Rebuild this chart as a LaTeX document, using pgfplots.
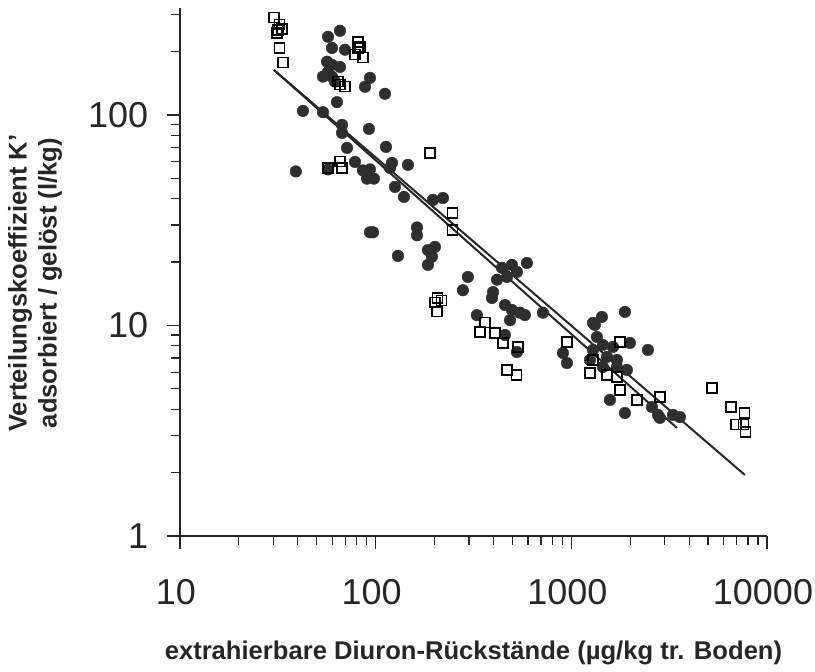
\documentclass[border=0pt]{standalone}
\usepackage{pgfplots}
\pgfplotsset{compat=1.18}
\usepackage{fontspec}
\setmainfont{Liberation Sans}
\begin{document}
\begin{tikzpicture}
\begin{loglogaxis}[
  name=ax,
  scale only axis,
  width=293.5pt, height=264pt,
  xmin=10, xmax=10000, ymin=1, ymax=322,
  axis lines=left,
  axis line style={-, line width=0.6pt, black!85},
  tick align=outside,
  major tick length=6.5pt, minor tick length=4.5pt,
  every tick/.style={line width=0.6pt, black!85},
  xtick={10,100,1000,10000}, xticklabels={10,100,1000,10000},
  ytick={1,10,100}, yticklabels={1,10,100},
  minor xtick={20,30,40,50,60,70,80,90,200,300,400,500,600,700,800,900,2000,3000,4000,5000,6000,7000,8000,9000},
  minor ytick={2,3,4,5,6,7,8,9,20,30,40,50,60,70,80,90,200,300},
  ticklabel style={font=\fontsize{18}{20}\selectfont, black!85, inner sep=0pt},
  xticklabel style={yshift=-15.2pt, xshift=-2pt},
  yticklabel style={xshift=-9.2pt},
  /pgf/number format/assume math mode=true,
  xlabel={extrahierbare Diuron-Rückstände (µg/kg tr. Boden)},
  ylabel={Verteilungskoeffizient K'\\adsorbiert / gelöst (l/kg)},
  label style={font=\bfseries\fontsize{12.8}{15}\selectfont, black!85, align=center},
  xlabel style={at={(axis description cs:0.5,-0.233)}, anchor=base},
  ylabel style={at={(axis description cs:-0.247,0.479)}, anchor=center},
  clip=false,
]
\addplot[only marks, mark=*, mark size=2.9pt, mark options={fill=black!82, draw=black!82, line width=0.2pt}] coordinates {
(65.7,251) (57.1,235) (59.8,208) (69.7,204) (56.4,179) (59.8,173) (65.7,169) (57.1,160)
(53.8,152) (59.8,152) (61.9,144) (93.5,150) (88.2,136) (111.6,126) (63.4,115) (42.5,104.5)
(53.8,103) (67.3,89.7) (67.3,82.1) (92.4,85.8) (71.4,69.7) (112.9,70.5) (78.4,59.8) (121.2,59.2)
(118.4,56.0) (146.2,57.9) (39.1,53.9) (57.1,55.1) (86.1,54.5) (93.5,55.1) (90.3,49.8) (98.0,49.8)
(125.5,45.5) (139.5,40.8) (196.3,39.5) (220.8,40.3) (93.5,27.7) (96.9,27.7) (162.6,29.2) (162.6,26.8)
(130,21.4) (185,22.8) (200.9,23.6) (194,21.2) (185,19.4) (442,18.8) (497,19.4) (527,17.96)
(593,19.8) (469,17.0) (417,16.5) (398,14.4) (393,13.5) (296,17.0) (279,14.7) (458,12.5)
(497,11.85) (546,11.5) (486,10.6) (579,11.2) (716,11.5) (329,11.2) (458,9.01) (527,7.48)
(906,7.40) (950,6.63) (1290,10.28) (1433,10.98) (1351,8.82) (1450,8.08) (1632,7.91) (1290,7.65)
(1520,7.09) (1710,6.86) (1879,11.6) (1575,4.43) (1879,3.84) (1320,10.06) (1993,8.26) (2463,7.65)
(1710,6.35) (1924,6.15) (1450,6.35) (1245,6.86) (2581,4.10) (2771,3.76) (3305,3.76) (3589,3.67)
(2836,3.64)
};
\addplot[only marks, mark=square, mark size=2.5pt, mark options={draw=black, line width=0.6pt, fill=none}] coordinates {
(30.2,289) (32.4,268) (31.7,253) (33.2,256) (31.3,245) (32.4,208) (33.6,177) (81.2,222)
(81.2,208) (78.4,193) (86.1,187) (83.2,210) (65.7,139) (69.7,137) (64.2,144) (189.5,66)
(57.1,56) (65.7,60) (67.3,56) (248,34.2) (248,28.4) (208,13.5) (201,12.8) (206,11.6)
(218,13.1) (341,9.31) (362,10.3) (407,9.21) (447,8.26) (534,7.91) (469,6.15) (527,5.82)
(950,8.35) (1245,5.95) (1520,5.82) (1772,4.94) (1710,5.69) (1772,8.35) (1290,6.86) (2164,4.43)
(2836,4.57) (5231,5.05) (6540,4.10) (7709,3.84) (6936,3.40) (7619,3.40) (7802,3.12)
};
\addplot[black!85, line width=1pt] coordinates {(30.2,163.6) (7710,1.95)};
\addplot[black!85, line width=1pt] coordinates {(30.2,163.6) (3467,3.26)};
\end{loglogaxis}
\path (ax.south west) ++(-90pt,-65.5pt) rectangle ++(407.5pt,333.5pt);
\end{tikzpicture}
\end{document}
